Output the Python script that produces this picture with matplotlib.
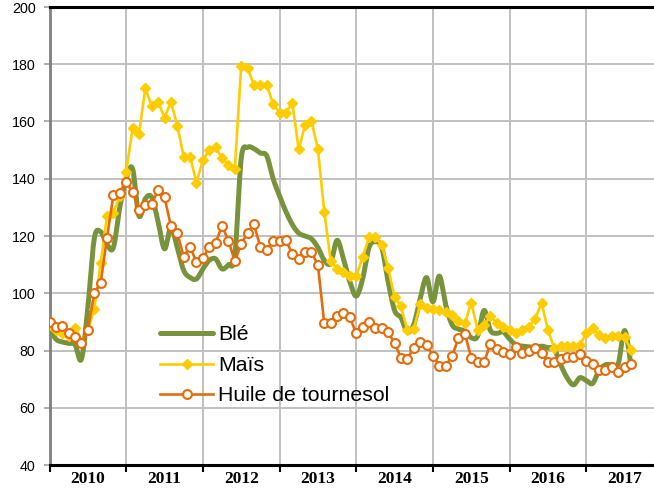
import numpy as np
import matplotlib
matplotlib.use("Agg")
import matplotlib.pyplot as plt
from matplotlib.lines import Line2D

# ---------------- data (monthly, Jan 2010 .. Aug 2017) ----------------
years = ["2010", "2011", "2012", "2013", "2014", "2015", "2016", "2017"]
y_ticks = [40, 60, 80, 100, 120, 140, 160, 180, 200]

ble = [88, 84, 83, 82.5, 82, 77, 95, 119, 121.5, 117, 116, 130,
       140, 143.5, 127, 133, 133.5, 125, 115.5, 123, 116, 108, 105.5, 105,
       108.5, 111.5, 112, 108.5, 110, 113, 147, 151, 150.5, 149, 148, 140,
       134, 128.5, 124, 121, 120, 119, 116, 111.5, 110.5, 118.5, 112, 104,
       99, 105, 116, 118, 116, 104, 94, 91.5, 86.5, 89, 98, 105.5, 97, 106,
       96, 89, 87.5, 86.8, 84.5, 85, 94, 87, 86, 86.5, 84, 82,
       81.5, 81.3, 81, 81.5, 81, 80.5, 75, 70.5, 68, 70.5, 69.5, 68.5,
       73, 75, 75, 75.3, 87, 75]

mais = [89, 87, 86, 85, 88, 83, 87, 94.4, 110.4, 127, 128, 134,
        142.5, 157.6, 155.6, 171.6, 165.4, 166.9, 161.3, 166.9, 158.5, 147.7, 147.7, 138.6,
        146.6, 150, 151, 147.1, 144.8, 143.4, 179.4, 178.6, 172.8, 172.8, 172.8, 166.1,
        163.1, 163.1, 166.4, 150.3, 158.8, 160.2, 150.3, 128.5, 111.4, 108.5, 107.3, 106,
        106, 112.6, 119.5, 119.5, 116.9, 108.7, 98.6, 95.5, 87, 87.4, 96.2, 94.7, 94.4, 94.2,
        93.5, 92.4, 90.4, 89.5, 96.7, 87.2, 88.9, 92, 89.5, 88.1, 87.2, 86.2,
        87.2, 88.3, 91, 96.7, 87.2, 80.8, 81.6, 81.6, 81.6, 81.9, 86, 87.8,
        85.4, 84.3, 85.1, 85.1, 84.6, 80.2]

huile = [90.1, 88.3, 88.6, 86, 84.6, 82.7, 87.2, 100, 103.5, 119.4, 134.3, 135.1,
         138.8, 135.3, 129.1, 130.7, 131.2, 136.1, 133.5, 123.5, 121, 112.8, 116.3, 110.8,
         112.2, 116.3, 117.7, 123.5, 118.4, 111.2, 117.2, 121.2, 124.1, 116.1, 115.1, 118.1,
         118.1, 118.6, 113.7, 111.9, 114.4, 114.4, 109.9, 89.5, 89.7, 92.2, 93, 91.6,
         86, 88.1, 89.9, 87.8, 88, 86.4, 82.5, 77.5, 77, 81, 83, 81.8, 78.2, 74.7,
         74.7, 78, 84.3, 85.8, 77.5, 75.9, 75.9, 82.3, 80.4, 79.6, 78.8, 81.1,
         79, 79.9, 80.9, 79.2, 76.1, 76.1, 76.9, 77.6, 77.6, 78.7, 76.4, 75.3,
         73.2, 73.2, 74.1, 72.6, 74.1, 75.2]

labels = ["Blé", "Maïs", "Huile de tournesol"]

# ---------------- helpers ----------------
def catmull_rom(x, y, n=12):
    x = np.asarray(x, float); y = np.asarray(y, float)
    px = np.concatenate([[2 * x[0] - x[1]], x, [2 * x[-1] - x[-2]]])
    py = np.concatenate([[2 * y[0] - y[1]], y, [2 * y[-1] - y[-2]]])
    t = np.linspace(0, 1, n, endpoint=False)
    xs, ys = [], []
    for i in range(1, len(px) - 2):
        for arr, out in ((px, xs), (py, ys)):
            p0, p1, p2, p3 = arr[i - 1], arr[i], arr[i + 1], arr[i + 2]
            out.extend(0.5 * ((2 * p1) + (-p0 + p2) * t
                              + (2 * p0 - 5 * p1 + 4 * p2 - p3) * t ** 2
                              + (-p0 + 3 * p1 - 3 * p2 + p3) * t ** 3))
    xs.append(x[-1]); ys.append(y[-1])
    return np.array(xs), np.array(ys)

# ---------------- figure ----------------
W, H = 654, 490
fig = plt.figure(figsize=(W / 100, H / 100), dpi=100)
left_px, top_px, bottom_px = 49.5, 7, 465
month_px = 6.39
ax_w = (96 * month_px) / W
ax = fig.add_axes([left_px / W, 1 - bottom_px / H, ax_w, (bottom_px - top_px) / H])

months = np.arange(len(ble))

GREEN = "#77933C"
YELLOW = "#FFCC00"
ORANGE = "#E46C0A"

sx, sy = catmull_rom(months, ble)
ax.plot(sx, sy, color=GREEN, lw=3.6, solid_capstyle="round", zorder=3)
ax.plot(months, mais, color=YELLOW, lw=1.9, marker="D", ms=5.0,
        mfc=YELLOW, mec=YELLOW, zorder=4)
ax.plot(months, huile, color=ORANGE, lw=1.9, marker="o", ms=6.4,
        mfc="white", mec=ORANGE, mew=1.5, zorder=5)

ax.set_xlim(0, 96)
ax.set_ylim(40, 200)
ax.set_yticks(y_ticks)
ax.set_yticklabels([str(v) for v in y_ticks], fontsize=10.3,
                   family=["Liberation Sans", "DejaVu Sans"])
ax.set_xticks(np.arange(0, 97, 12))
ax.set_xticklabels([])
ax.set_xticks(np.arange(6, 96, 12), minor=True)
ax.set_xticklabels(years, minor=True, fontsize=12.5, fontweight="bold",
                   family=["Liberation Serif", "DejaVu Serif"])
ax.tick_params(axis="x", which="minor", length=0, pad=4)
ax.tick_params(axis="x", which="major", length=5, width=1.5, direction="out", color="black")
ax.tick_params(axis="y", length=4, width=1.2, color="#A0A0A0", pad=6)

ax.grid(True, which="major", color="#C0C0C0", lw=1.4)
ax.set_axisbelow(True)
for s in ("top", "bottom"):
    ax.spines[s].set_color("black")
    ax.spines[s].set_linewidth(2.2)
ax.spines["left"].set_color("#808080")
ax.spines["left"].set_linewidth(2.0)
ax.spines["right"].set_visible(False)

handles = [
    Line2D([], [], color=GREEN, lw=3.6, solid_capstyle="round"),
    Line2D([], [], color=YELLOW, lw=1.9, marker="D", ms=5.0, mfc=YELLOW, mec=YELLOW),
    Line2D([], [], color=ORANGE, lw=1.9, marker="o", ms=6.4, mfc="white", mec=ORANGE, mew=1.5),
]
leg = ax.legend(handles, labels, loc="upper left",
                bbox_to_anchor=(160 / W, 1 - 325.5 / H), bbox_transform=fig.transFigure,
                frameon=False, borderpad=0, borderaxespad=0, handlelength=2.5,
                handletextpad=0.24, labelspacing=0.54, numpoints=1,
                prop={"family": ["Liberation Sans", "DejaVu Sans"], "size": 15.3})

fig.savefig("out.png", dpi=100)
